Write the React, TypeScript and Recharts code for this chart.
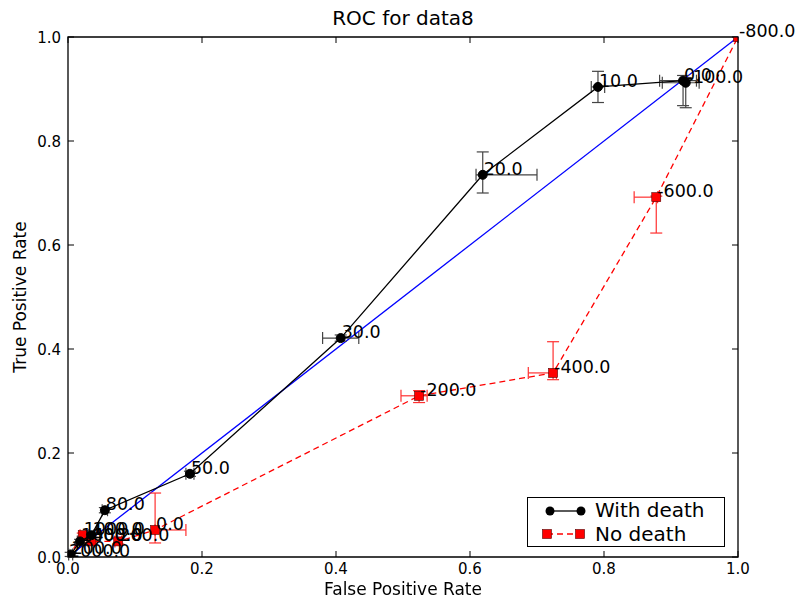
import React from "react";
import {
  ScatterChart,
  Scatter,
  XAxis,
  YAxis,
  ErrorBar,
  ReferenceLine,
  ReferenceArea,
} from "recharts";

// ROC points, "With death"
const withDeathFpr = [0.004, 0.018, 0.035, 0.055, 0.182, 0.407, 0.619, 0.791, 0.918, 0.922];
const withDeathTpr = [0.005, 0.03, 0.042, 0.09, 0.16, 0.421, 0.735, 0.904, 0.916, 0.912];
const withDeathLabels = ["200.0", "1000.0", "100.0", "80.0", "50.0", "30.0", "20.0", "10.0", "0.0", "-100.0"];
const withDeathErrX = [
  [0.003, 0.003], [0.004, 0.004], [0.004, 0.004], [0.004, 0.004], [0.006, 0.006],
  [0.027, 0.027], [0.01, 0.081], [0.01, 0.01], [0.035, 0.02], [0.035, 0.02],
];
const withDeathErrY = [
  [0.004, 0.004], [0.004, 0.004], [0.004, 0.004], [0.005, 0.005], [0.005, 0.005],
  [0.006, 0.006], [0.035, 0.044], [0.03, 0.03], [0.048, 0.01], [0.048, 0.01],
];

// ROC points, "No death"
const noDeathFpr = [0.0, 0.022, 0.035, 0.075, 0.13, 0.524, 0.724, 0.878, 1.0];
const noDeathTpr = [0.0, 0.042, 0.03, 0.03, 0.052, 0.31, 0.354, 0.692, 1.0];
const noDeathLabels = ["2000.0", "1000.0", "400.0", "200.0", "0.0", "-200.0", "-400.0", "-600.0", "-800.0"];
const noDeathErrX = [
  null, [0.004, 0.004], [0.004, 0.004], [0.005, 0.005], [0, 0.046],
  [0.027, 0.012], [0.037, 0.005], [0.033, 0.002], null,
];
const noDeathErrY = [
  null, [0.004, 0.004], [0.004, 0.004], [0.005, 0.005], [0.025, 0.071],
  [0.013, 0.01], [0.013, 0.06], [0.069, 0.002], null,
];

const ticks = [0, 0.2, 0.4, 0.6, 0.8, 1.0];

const withDeath = withDeathFpr.map((x, i) => ({
  x,
  y: withDeathTpr[i],
  label: withDeathLabels[i],
  ex: withDeathErrX[i],
  ey: withDeathErrY[i],
}));
const noDeath = noDeathFpr.map((x, i) => ({
  x,
  y: noDeathTpr[i],
  label: noDeathLabels[i],
  ex: noDeathErrX[i],
  ey: noDeathErrY[i],
}));

const FONT = "'DejaVu Sans', sans-serif";

const BottomTick = (props: any) => {
  const { x, y, payload } = props;
  return (
    <g>
      <line x1={x} y1={y} x2={x} y2={y - 6} stroke="#000" strokeWidth={1} />
      <text x={x} y={y + 17} textAnchor="middle" fontSize={15} fontFamily={FONT} fill="#000">
        {Number(payload.value).toFixed(1)}
      </text>
    </g>
  );
};

const LeftTick = (props: any) => {
  const { x, y, payload } = props;
  return (
    <g>
      <line x1={x} y1={y} x2={x + 6} y2={y} stroke="#000" strokeWidth={1} />
      <text x={x - 7} y={y + 5.5} textAnchor="end" fontSize={15} fontFamily={FONT} fill="#000">
        {Number(payload.value).toFixed(1)}
      </text>
    </g>
  );
};

const TopTick = (props: any) => {
  const { x, y } = props;
  return <line x1={x} y1={y} x2={x} y2={y + 6} stroke="#000" strokeWidth={1} />;
};

const RightTick = (props: any) => {
  const { x, y } = props;
  return <line x1={x} y1={y} x2={x - 6} y2={y} stroke="#000" strokeWidth={1} />;
};

const Dot = (props: any) => (
  <circle cx={props.cx} cy={props.cy} r={4.5} fill="#000" stroke="#000" />
);

const Square = (props: any) => (
  <rect x={props.cx - 4.5} y={props.cy - 4.5} width={9} height={9} fill="#ff0000" stroke="#550000" strokeWidth={0.6} />
);

const PointLabel = (props: any) => (
  <text x={props.cx + 1} y={props.cy} fontSize={17.5} fontFamily={FONT} fill="#000">
    {props.payload.label}
  </text>
);

const Legend = () => (
  <div
    style={{
      position: "absolute",
      left: 527,
      top: 497,
      width: 196,
      height: 48,
      border: "1px solid #000",
      background: "#fff",
      fontFamily: FONT,
      fontSize: 20,
    }}
  >
    <svg width={60} height={48} style={{ position: "absolute", left: 12, top: 0 }}>
      <line x1={10} y1={13} x2={41} y2={13} stroke="#000" strokeWidth={1.3} />
      <circle cx={10} cy={13} r={4.5} fill="#000" />
      <circle cx={41} cy={13} r={4.5} fill="#000" />
      <line x1={7} y1={36} x2={40} y2={36} stroke="#ff0000" strokeWidth={1.3} strokeDasharray="6 4" />
      <rect x={2.5} y={31.5} width={9} height={9} fill="#ff0000" stroke="#550000" strokeWidth={0.6} />
      <rect x={35.5} y={31.5} width={9} height={9} fill="#ff0000" stroke="#550000" strokeWidth={0.6} />
    </svg>
    <div style={{ position: "absolute", left: 67, top: 0, lineHeight: "25px" }}>With death</div>
    <div style={{ position: "absolute", left: 67, top: 24, lineHeight: "25px" }}>No death</div>
  </div>
);

export default function App() {
  return (
    <div style={{ position: "fixed", left: 0, top: 0, width: 796, height: 601, background: "#fff" }}>
      <div
        style={{
          position: "absolute",
          left: 0,
          width: 806,
          top: 6,
          textAlign: "center",
          fontFamily: FONT,
          fontSize: 20,
        }}
      >
        ROC for data8
      </div>
      <ScatterChart width={796} height={601} margin={{ top: 27, right: 48, bottom: 14, left: 8 }}>
        {/* main axes clip the markers to the frame, like the reference */}
        <XAxis
          xAxisId="b"
          dataKey="x"
          type="number"
          domain={[0, 1]}
          ticks={ticks}
          interval={0}
          height={30}
          tickSize={0}
          tickMargin={0}
          axisLine={false}
          tick={BottomTick}
          allowDataOverflow
        />
        {/* top/right axes draw the inner ticks and carry the unclipped labels */}
        <XAxis
          xAxisId="t"
          orientation="top"
          dataKey="x"
          type="number"
          domain={[0, 1]}
          ticks={ticks}
          interval={0}
          height={10}
          tickSize={0}
          tickMargin={0}
          axisLine={false}
          tick={TopTick}
        />
        <YAxis
          yAxisId="l"
          dataKey="y"
          type="number"
          domain={[0, 1]}
          ticks={ticks}
          interval={0}
          width={60}
          tickSize={0}
          tickMargin={0}
          axisLine={false}
          tick={LeftTick}
          allowDataOverflow
        />
        <YAxis
          yAxisId="r"
          orientation="right"
          dataKey="y"
          type="number"
          domain={[0, 1]}
          ticks={ticks}
          interval={0}
          width={10}
          tickSize={0}
          tickMargin={0}
          axisLine={false}
          tick={RightTick}
        />
        <ReferenceArea
          xAxisId="b"
          yAxisId="l"
          x1={0}
          x2={1}
          y1={0}
          y2={1}
          fill="none"
          fillOpacity={0}
          stroke="#000"
          strokeWidth={1.3}
          strokeOpacity={1}
        />
        <ReferenceLine
          xAxisId="b"
          yAxisId="l"
          segment={[{ x: 0, y: 0 }, { x: 1, y: 1 }]}
          stroke="#0000ff"
          strokeWidth={1.3}
        />
        <Scatter
          xAxisId="b"
          yAxisId="l"
          data={noDeath}
          shape={<Square />}
          line={{ stroke: "#ff0000", strokeWidth: 1.3, strokeDasharray: "6 4" }}
          lineType="joint"
          isAnimationActive={false}
        >
          <ErrorBar dataKey="ex" direction="x" width={6} stroke="#ff3030" strokeWidth={1.2} />
          <ErrorBar dataKey="ey" direction="y" width={6} stroke="#ff3030" strokeWidth={1.2} />
        </Scatter>
        <Scatter
          xAxisId="b"
          yAxisId="l"
          data={withDeath}
          shape={<Dot />}
          line={{ stroke: "#000", strokeWidth: 1.3 }}
          lineType="joint"
          isAnimationActive={false}
        >
          <ErrorBar dataKey="ex" direction="x" width={6} stroke="#444" strokeWidth={1.2} />
          <ErrorBar dataKey="ey" direction="y" width={6} stroke="#444" strokeWidth={1.2} />
        </Scatter>
        <Scatter xAxisId="t" yAxisId="r" data={withDeath} shape={<PointLabel />} isAnimationActive={false} />
        <Scatter xAxisId="t" yAxisId="r" data={noDeath} shape={<PointLabel />} isAnimationActive={false} />
      </ScatterChart>
      <div
        style={{
          position: "absolute",
          left: 0,
          width: 806,
          top: 579,
          textAlign: "center",
          fontFamily: FONT,
          fontSize: 17,
        }}
      >
        False Positive Rate
      </div>
      <div
        style={{
          position: "absolute",
          left: 20,
          top: 297,
          width: 0,
          height: 0,
        }}
      >
        <div
          style={{
            position: "absolute",
            transform: "translate(-50%, -50%) rotate(-90deg)",
            whiteSpace: "nowrap",
            fontFamily: FONT,
            fontSize: 17,
          }}
        >
          True Positive Rate
        </div>
      </div>
      <Legend />
    </div>
  );
}
